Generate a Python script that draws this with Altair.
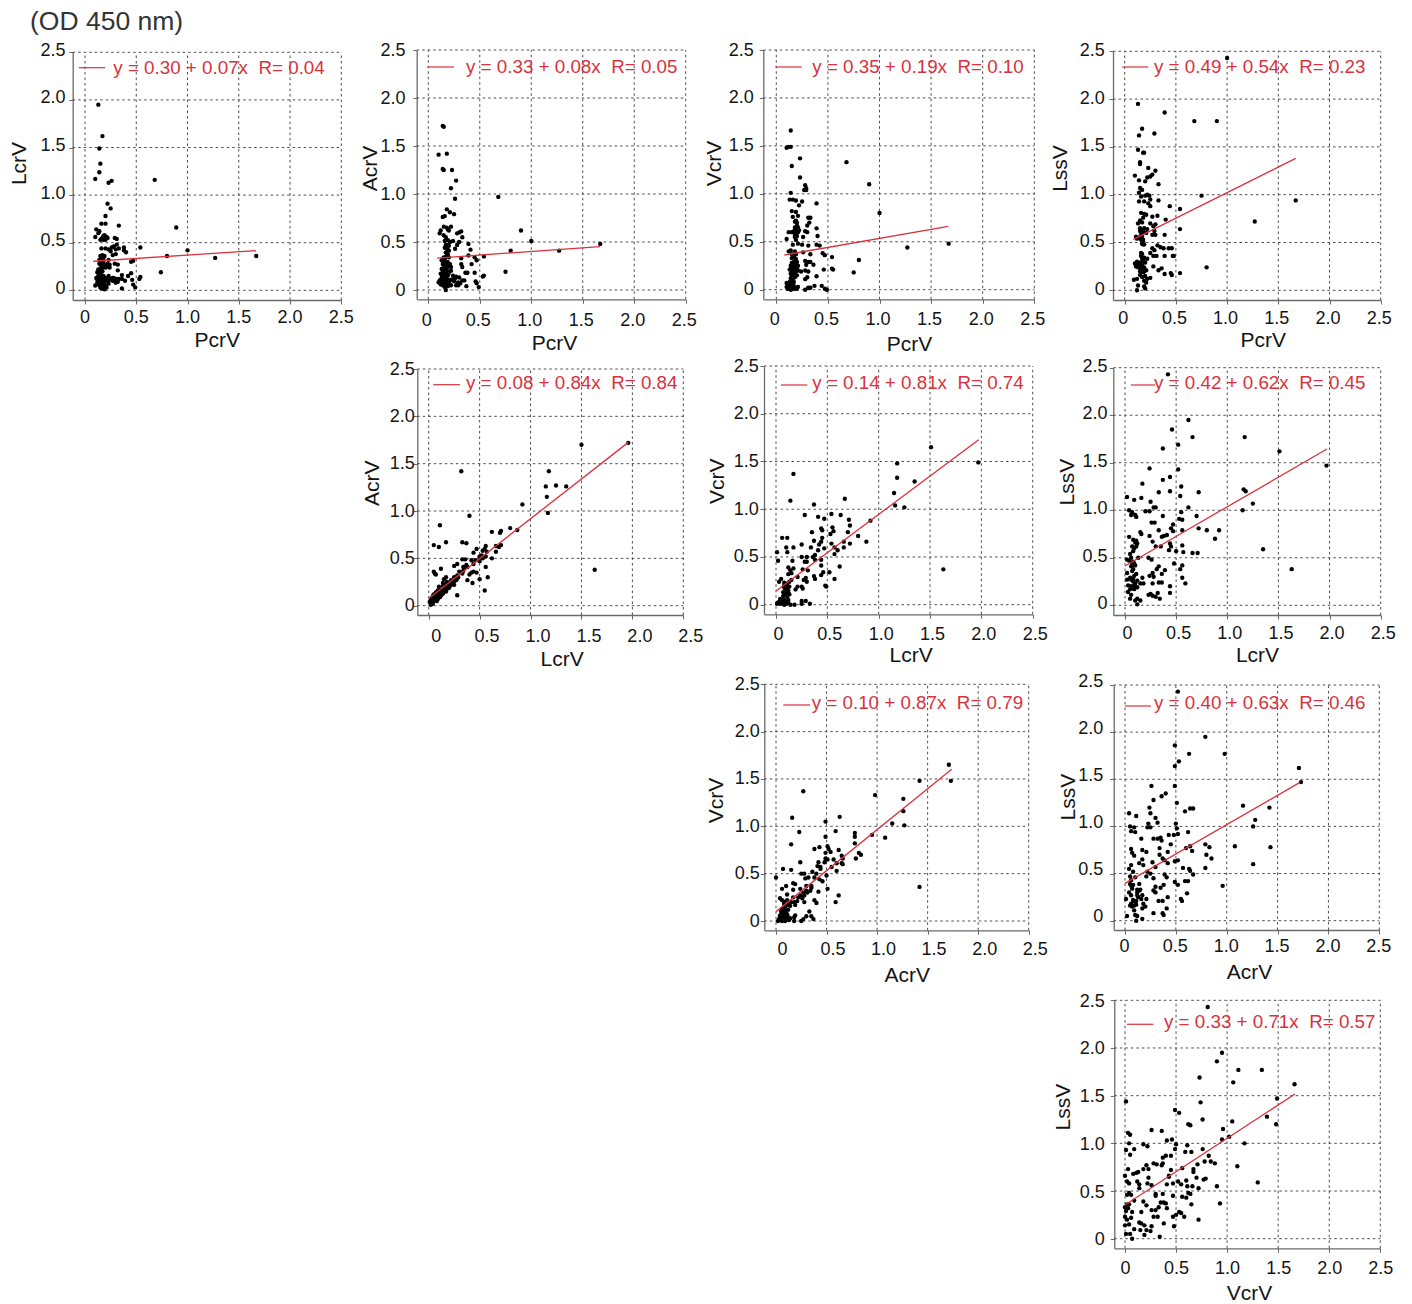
import altair as alt
import pandas as pd

# ---- values: (x, y) per panel ----
pcr_lcr = [(0.13,1.95),(0.17,1.62),(0.14,1.49),(0.15,1.33),(0.14,1.24),(0.10,1.17),(0.23,1.13),(0.26,1.15),(0.68,1.16),(0.22,0.91),(0.25,0.86),(0.20,0.78),(0.89,0.66),(1.0,0.42),(1.27,0.34),(1.67,0.36),(0.80,0.36),(0.74,0.19),(0.54,0.45),(0.33,0.68),(0.16,0.70),(0.20,0.70),(0.11,0.64),(0.14,0.62),(0.13,0.60),(0.10,0.56),(0.15,0.53),(0.17,0.55),(0.18,0.57),(0.19,0.55),(0.20,0.53),(0.22,0.55),(0.29,0.55),(0.31,0.54),(0.28,0.46),(0.31,0.48),(0.33,0.44),(0.30,0.43),(0.26,0.45),(0.25,0.41),(0.27,0.37),(0.16,0.44),(0.20,0.44),(0.23,0.43),(0.38,0.45),(0.38,0.42),(0.40,0.40),(0.45,0.30),(0.47,0.31),(0.15,0.36),(0.17,0.35),(0.19,0.36),(0.14,0.32),(0.16,0.30),(0.18,0.31),(0.14,0.28),(0.17,0.27),(0.19,0.26),(0.20,0.24),(0.22,0.28),(0.23,0.32),(0.22,0.25),(0.24,0.24),(0.29,0.28),(0.32,0.27),(0.32,0.21),(0.13,0.22),(0.12,0.19),(0.15,0.18),(0.17,0.20),(0.13,0.15),(0.11,0.13),(0.15,0.14),(0.18,0.15),(0.20,0.13),(0.23,0.15),(0.25,0.12),(0.28,0.13),(0.30,0.11),(0.33,0.12),(0.36,0.16),(0.36,0.12),(0.32,0.09),(0.39,0.10),(0.42,0.15),(0.45,0.18),(0.46,0.11),(0.47,0.06),(0.49,0.03),(0.53,0.12),(0.54,0.14),(0.36,0.02),(0.10,0.05),(0.13,0.06),(0.14,0.09),(0.16,0.07),(0.17,0.04),(0.18,0.02),(0.15,0.03),(0.20,0.05),(0.21,0.03),(0.23,0.07),(0.19,0.09),(0.22,0.10),(0.16,0.11),(0.27,0.10),(0.30,0.08),
           (0.12,0.11),(0.14,0.12),(0.16,0.13),(0.18,0.12),(0.13,0.09),(0.15,0.08),(0.17,0.09),(0.18,0.06),(0.15,0.05),(0.16,0.02),(0.19,0.01),(0.12,0.08),(0.14,0.18),(0.16,0.21),(0.15,0.23),(0.17,0.24),(0.16,0.26),(0.18,0.28),(0.15,0.30),(0.16,0.33),(0.18,0.34),(0.17,0.37),(0.21,0.27),(0.24,0.27),(0.21,0.12),(0.24,0.11),(0.27,0.13),(0.31,0.12),(0.19,0.58),(0.18,0.53),(0.21,0.56),(0.16,0.54),(0.30,0.38)]
pcr_acr = [(0.14,1.71),(0.15,1.70),(0.10,1.41),(0.18,1.42),(0.14,1.26),(0.15,1.25),(0.23,1.25),(0.27,1.14),(0.22,1.06),(0.26,0.95),(0.68,0.97),(0.18,0.84),(0.21,0.81),(0.25,0.79),(0.14,0.76),(0.16,0.77),(0.90,0.62),(1.0,0.51),(1.27,0.41),(1.67,0.48),(0.80,0.41),(0.75,0.19),(0.54,0.35),(0.54,0.15),(0.53,0.14),(0.49,0.03),(0.46,0.09),(0.47,0.07),(0.37,0.04),(0.11,0.59),(0.12,0.62),(0.15,0.66),(0.18,0.65),(0.19,0.63),(0.22,0.66),(0.20,0.62),(0.15,0.57),(0.17,0.55),(0.28,0.59),(0.30,0.60),(0.32,0.61),(0.33,0.55),(0.16,0.51),(0.19,0.52),(0.21,0.50),(0.17,0.47),(0.30,0.50),(0.28,0.47),(0.39,0.48),(0.26,0.43),(0.41,0.42),(0.18,0.43),(0.17,0.39),(0.19,0.37),(0.20,0.41),(0.15,0.34),(0.13,0.31),(0.16,0.31),(0.18,0.29),(0.14,0.27),(0.17,0.26),(0.19,0.25),(0.21,0.27),(0.22,0.24),(0.32,0.33),(0.39,0.36),(0.45,0.34),(0.47,0.31),(0.42,0.27),(0.32,0.27),(0.33,0.24),(0.13,0.22),(0.15,0.21),(0.18,0.20),(0.22,0.20),(0.36,0.18),(0.38,0.18),(0.45,0.18),(0.12,0.17),(0.14,0.15),(0.16,0.16),(0.19,0.15),(0.24,0.15),(0.27,0.14),(0.30,0.13),(0.10,0.08),(0.12,0.10),(0.14,0.09),(0.16,0.11),(0.18,0.08),(0.21,0.10),(0.25,0.09),(0.29,0.08),(0.33,0.10),(0.35,0.10),(0.27,0.05),(0.29,0.05),(0.31,0.07),(0.14,0.05),(0.16,0.03),(0.17,0.00),(0.19,0.04),(0.22,0.05),
           (0.15,0.29),(0.16,0.27),(0.17,0.23),(0.15,0.24),(0.16,0.19),(0.14,0.18),(0.17,0.17),(0.18,0.23),(0.19,0.29),(0.20,0.34),(0.18,0.36),(0.17,0.34),(0.18,0.39),(0.19,0.42),(0.13,0.13),(0.15,0.11),(0.17,0.13),(0.19,0.11),(0.20,0.07),(0.16,0.06),(0.14,0.07),(0.12,0.06),(0.11,0.10),(0.18,0.16),(0.20,0.18),(0.17,0.10),(0.15,0.08),(0.23,0.11),(0.26,0.12),(0.16,0.44),(0.19,0.47),(0.20,0.46),(0.24,0.51)]
pcr_vcr = [(0.14,1.66),(0.10,1.48),(0.12,1.49),(0.14,1.49),(0.23,1.37),(0.15,1.29),(0.68,1.33),(0.23,1.17),(0.90,1.10),(0.28,1.09),(0.29,1.06),(0.27,1.04),(0.29,1.04),(0.14,1.01),(0.13,0.94),(0.16,0.94),(0.19,0.93),(0.25,0.92),(0.22,0.88),(0.39,0.90),(1.0,0.80),(0.15,0.82),(0.19,0.81),(0.16,0.76),(0.21,0.77),(0.31,0.75),(0.33,0.75),(0.18,0.71),(0.20,0.70),(0.32,0.70),(0.30,0.67),(0.18,0.65),(0.21,0.65),(0.19,0.62),(0.17,0.61),(0.22,0.62),(0.39,0.64),(0.12,0.60),(0.15,0.60),(0.28,0.61),(0.30,0.60),(0.40,0.56),(0.18,0.57),(0.20,0.56),(0.26,0.55),(0.10,0.53),(0.19,0.52),(0.21,0.48),(0.25,0.47),(0.31,0.46),(0.39,0.47),(0.42,0.46),(0.16,0.47),(0.14,0.41),(0.12,0.40),(0.18,0.40),(0.26,0.39),(0.33,0.37),(0.45,0.38),(0.47,0.36),(0.54,0.34),(0.17,0.36),(0.15,0.33),(0.19,0.32),(0.17,0.29),(0.20,0.29),(0.28,0.30),(0.31,0.29),(0.33,0.29),(0.80,0.31),(0.36,0.26),(0.29,0.26),(1.27,0.44),(1.67,0.48),(0.75,0.18),(0.54,0.22),(0.55,0.21),(0.46,0.21),(0.14,0.25),(0.16,0.24),(0.18,0.25),(0.20,0.23),(0.13,0.21),(0.15,0.20),(0.17,0.21),(0.19,0.19),(0.21,0.20),(0.28,0.20),(0.31,0.19),(0.39,0.14),(0.20,0.15),(0.24,0.19),(0.14,0.12),(0.16,0.10),(0.18,0.13),(0.30,0.13),(0.28,0.11),(0.10,0.07),(0.12,0.05),(0.13,0.03),(0.15,0.06),(0.17,0.04),(0.19,0.02),(0.21,0.03),(0.11,0.01),(0.14,0.00),(0.16,0.01),(0.28,0.00),(0.31,0.02),(0.33,0.02),(0.37,0.04),(0.44,0.04),(0.47,0.01),(0.49,0.00),
           (0.14,0.22),(0.16,0.22),(0.18,0.22),(0.19,0.26),(0.15,0.28),(0.17,0.26),(0.21,0.25),(0.16,0.18),(0.18,0.17),(0.14,0.17),(0.15,0.15),(0.17,0.34),(0.15,0.37),(0.19,0.37),(0.20,0.61),(0.19,0.64),(0.21,0.60),(0.18,0.60),(0.20,0.67),(0.19,0.72),(0.18,0.55),(0.13,0.08),(0.15,0.09),(0.17,0.08),(0.12,0.02),(0.13,0.01),(0.18,0.01),(0.20,0.01),(0.15,0.02),(0.10,0.03)]
pcr_lss = [(1.0,2.43),(0.13,1.95),(0.39,1.86),(0.68,1.77),(0.90,1.77),(0.17,1.69),(0.14,1.62),(0.29,1.64),(0.13,1.47),(0.18,1.44),(0.19,1.44),(0.15,1.34),(0.15,1.32),(0.23,1.28),(0.30,1.25),(0.27,1.21),(0.25,1.19),(0.22,1.18),(0.10,1.20),(0.14,1.15),(0.20,1.14),(0.33,1.11),(0.15,1.07),(0.17,1.05),(0.14,1.02),(0.22,1.00),(0.20,0.99),(0.24,0.99),(0.16,0.98),(0.75,0.99),(1.67,0.94),(0.14,0.93),(0.19,0.93),(0.25,0.95),(0.33,0.94),(0.23,0.91),(0.25,0.88),(0.44,0.88),(0.54,0.85),(0.16,0.81),(0.19,0.80),(0.21,0.79),(0.27,0.77),(0.32,0.78),(0.18,0.76),(0.15,0.73),(0.13,0.70),(0.17,0.71),(0.40,0.74),(1.27,0.72),(0.25,0.70),(0.30,0.69),(0.28,0.67),(0.19,0.65),(0.22,0.64),(0.15,0.62),(0.54,0.64),(0.17,0.60),(0.21,0.60),(0.29,0.62),(0.11,0.56),(0.12,0.54),(0.15,0.56),(0.27,0.58),(0.30,0.58),(0.39,0.58),(0.16,0.53),(0.18,0.51),(0.17,0.49),(0.19,0.48),(0.32,0.47),(0.35,0.45),(0.38,0.44),(0.43,0.44),(0.46,0.44),(0.27,0.44),(0.29,0.42),(0.16,0.39),(0.25,0.39),(0.47,0.36),(0.48,0.36),(0.28,0.36),(0.31,0.36),(0.39,0.36),(0.16,0.36),(0.19,0.34),(0.22,0.33),(0.12,0.30),(0.10,0.28),(0.14,0.29),(0.17,0.30),(0.20,0.29),(0.11,0.25),(0.13,0.24),(0.16,0.25),(0.19,0.24),(0.80,0.24),(0.28,0.25),(0.33,0.21),(0.36,0.23),(0.15,0.20),(0.18,0.19),(0.21,0.21),(0.39,0.17),(0.45,0.18),(0.46,0.16),(0.54,0.18),(0.15,0.16),(0.17,0.14),(0.20,0.15),(0.22,0.12),(0.25,0.13),(0.09,0.11),(0.12,0.12),(0.19,0.10),(0.21,0.08),(0.13,0.05),(0.19,0.04),(0.20,0.02),(0.12,0.00),
           (0.14,0.27),(0.15,0.26),(0.17,0.27),(0.13,0.28),(0.18,0.31),(0.19,0.33),(0.17,0.33),(0.18,0.22),(0.16,0.22),(0.19,0.20),(0.17,0.49),(0.18,0.48),(0.18,0.53),(0.17,0.56),(0.16,0.60),(0.18,0.62),(0.15,0.65),(0.17,0.38)]
lcr_acr = [(1.96,1.72),(1.50,1.70),(0.32,1.42),(1.18,1.42),(1.25,1.27),(1.15,1.26),(1.35,1.26),(1.16,1.15),(0.92,1.07),(1.17,0.98),(0.40,0.95),(0.11,0.85),(0.80,0.82),(0.87,0.80),(0.62,0.78),(0.71,0.79),(0.70,0.77),(0.05,0.64),(0.10,0.62),(0.17,0.67),(0.33,0.67),(0.37,0.66),(0.71,0.64),(0.66,0.63),(0.69,0.62),(0.56,0.63),(0.55,0.60),(0.47,0.60),(0.53,0.58),(0.57,0.57),(0.44,0.56),(0.66,0.57),(0.52,0.53),(0.56,0.52),(0.50,0.50),(0.62,0.50),(0.33,0.49),(0.36,0.49),(0.42,0.48),(0.46,0.48),(0.50,0.47),(0.28,0.44),(0.25,0.42),(0.44,0.44),(0.38,0.41),(0.56,0.41),(1.63,0.38),(0.35,0.40),(0.12,0.39),(0.34,0.37),(0.44,0.36),(0.47,0.35),(0.42,0.35),(0.05,0.36),(0.06,0.34),(0.07,0.33),(0.30,0.36),(0.33,0.34),(0.40,0.33),(0.58,0.30),(0.28,0.32),(0.25,0.30),(0.17,0.30),(0.15,0.28),(0.50,0.28),(0.38,0.27),(0.22,0.27),(0.27,0.27),(0.18,0.25),(0.24,0.25),(0.43,0.24),(0.21,0.23),(0.14,0.24),(0.17,0.22),(0.25,0.22),(0.10,0.20),(0.14,0.21),(0.20,0.19),(0.15,0.18),(0.55,0.16),(0.12,0.17),(0.09,0.16),(0.17,0.15),(0.07,0.14),(0.11,0.14),(0.14,0.13),(0.05,0.12),(0.09,0.12),(0.12,0.11),(0.28,0.11),(0.04,0.10),(0.07,0.10),(0.11,0.09),(0.03,0.08),(0.06,0.08),(0.09,0.07),(0.02,0.06),(0.05,0.05),(0.08,0.05),(0.01,0.04),(0.03,0.03),(0.02,0.01),(0.04,0.02),
           (0.02,0.05),(0.03,0.06),(0.04,0.05),(0.05,0.07),(0.06,0.06),(0.07,0.07),(0.08,0.08),(0.09,0.09),(0.10,0.10),(0.11,0.11),(0.12,0.12),(0.13,0.12),(0.14,0.14),(0.15,0.15),(0.16,0.16),(0.04,0.07),(0.05,0.09),(0.07,0.12),(0.08,0.10),(0.10,0.13),(0.12,0.14),(0.13,0.16),(0.15,0.17),(0.18,0.18),(0.19,0.20),(0.21,0.21),(0.22,0.22),(0.23,0.23),(0.24,0.24),(0.25,0.26),(0.26,0.27),(0.27,0.28),(0.28,0.29),(0.29,0.30),(0.08,0.14),(0.09,0.12),(0.11,0.16),(0.16,0.19),(0.18,0.21),(0.20,0.22),(0.34,0.41),(0.37,0.43),(0.50,0.52),(0.53,0.50)]
lcr_vcr = [(1.51,1.65),(1.18,1.48),(1.97,1.49),(0.17,1.37),(1.18,1.33),(1.35,1.29),(1.15,1.17),(0.14,1.09),(0.67,1.11),(0.37,1.05),(1.16,1.04),(1.25,1.02),(0.28,0.94),(0.41,0.92),(0.47,0.90),(0.54,0.95),(0.63,0.94),(0.71,0.89),(0.92,0.88),(0.72,0.83),(0.44,0.80),(0.45,0.78),(0.55,0.81),(0.35,0.76),(0.56,0.77),(0.53,0.74),(0.70,0.76),(0.80,0.72),(0.06,0.70),(0.11,0.70),(0.45,0.70),(0.37,0.67),(0.44,0.66),(0.88,0.66),(0.66,0.66),(0.72,0.64),(0.42,0.63),(0.25,0.63),(0.54,0.64),(0.66,0.60),(0.10,0.60),(0.17,0.60),(0.34,0.60),(0.47,0.59),(0.57,0.60),(0.60,0.57),(0.01,0.55),(0.11,0.55),(0.41,0.57),(0.38,0.52),(0.57,0.53),(0.25,0.50),(0.30,0.50),(0.36,0.50),(0.02,0.46),(0.16,0.46),(0.28,0.45),(0.30,0.45),(0.38,0.47),(0.44,0.47),(0.12,0.39),(0.17,0.38),(0.26,0.37),(0.44,0.41),(0.62,0.40),(0.14,0.36),(0.31,0.36),(0.52,0.34),(0.46,0.34),(0.12,0.32),(0.15,0.33),(1.63,0.37),(0.37,0.30),(0.44,0.31),(0.57,0.27),(0.05,0.27),(0.21,0.29),(0.29,0.28),(0.27,0.26),(0.15,0.26),(0.38,0.27),(0.03,0.24),(0.08,0.23),(0.10,0.22),(0.13,0.24),(0.30,0.24),(0.10,0.20),(0.08,0.18),(0.13,0.19),(0.21,0.19),(0.25,0.19),(0.48,0.20),(0.49,0.19),(0.10,0.15),(0.12,0.15),(0.19,0.16),(0.26,0.17),(0.07,0.13),(0.10,0.12),(0.13,0.11),(0.07,0.09),(0.11,0.08),(0.04,0.06),(0.06,0.05),(0.12,0.05),(0.25,0.04),(0.29,0.04),(0.02,0.02),(0.04,0.01),(0.06,0.02),(0.10,0.01),(0.14,0.00),(0.18,0.00),(0.25,0.01),(0.33,0.01),(0.01,0.01),(0.08,0.00),
           (0.08,0.10),(0.10,0.18),(0.11,0.20),(0.08,0.20),(0.09,0.17),(0.11,0.13),(0.05,0.02),(0.07,0.01),(0.03,0.03),(0.09,0.03),(0.12,0.02),(0.08,0.05),(0.11,0.16)]
lcr_lss = [(0.42,2.43),(0.62,1.95),(0.46,1.85),(0.66,1.77),(1.17,1.77),(0.52,1.69),(0.37,1.65),(1.51,1.62),(1.97,1.47),(0.24,1.44),(0.52,1.43),(0.37,1.32),(0.44,1.35),(0.17,1.28),(0.55,1.25),(1.16,1.22),(1.18,1.20),(0.33,1.19),(0.44,1.20),(0.72,1.19),(0.02,1.14),(0.16,1.13),(0.54,1.15),(0.09,1.11),(0.25,1.09),(1.25,1.07),(0.28,1.03),(0.30,1.03),(0.62,1.03),(0.04,1.00),(0.07,0.98),(0.20,0.99),(0.24,0.99),(1.15,1.00),(0.55,0.98),(0.06,0.95),(0.10,0.95),(0.11,0.93),(0.37,0.94),(0.70,0.94),(0.53,0.91),(0.56,0.90),(0.26,0.87),(0.29,0.87),(0.47,0.85),(0.45,0.81),(0.72,0.81),(0.33,0.79),(0.47,0.78),(0.56,0.79),(0.80,0.79),(0.92,0.79),(0.15,0.77),(0.16,0.75),(0.24,0.73),(0.36,0.72),(0.38,0.73),(0.41,0.74),(0.04,0.72),(0.08,0.69),(0.11,0.68),(0.88,0.70),(0.27,0.67),(0.12,0.65),(0.44,0.65),(0.45,0.62),(0.56,0.63),(0.07,0.62),(0.09,0.60),(0.30,0.62),(0.35,0.62),(0.43,0.58),(0.50,0.57),(1.35,0.59),(0.08,0.57),(0.05,0.54),(0.57,0.56),(0.66,0.55),(0.71,0.55),(0.06,0.50),(0.13,0.50),(0.23,0.50),(0.26,0.48),(0.02,0.48),(0.04,0.47),(0.08,0.46),(0.48,0.44),(0.56,0.42),(0.09,0.44),(0.33,0.41),(0.06,0.41),(1.63,0.38),(0.54,0.38),(0.31,0.38),(0.39,0.37),(0.02,0.34),(0.07,0.36),(0.11,0.33),(0.27,0.34),(0.36,0.33),(0.24,0.31),(0.28,0.30),(0.56,0.29),(0.05,0.29),(0.08,0.28),(0.17,0.29),(0.02,0.27),(0.12,0.26),(0.33,0.24),(0.36,0.24),(0.15,0.23),(0.18,0.23),(0.27,0.23),(0.59,0.23),(0.03,0.21),(0.06,0.20),(0.09,0.21),(0.12,0.19),(0.44,0.20),(0.05,0.17),(0.09,0.17),(0.03,0.14),(0.32,0.13),(0.44,0.13),(0.25,0.12),(0.06,0.11),(0.23,0.11),(0.27,0.10),(0.30,0.09),(0.34,0.07),(0.05,0.07),(0.12,0.07),(0.10,0.05),(0.15,0.05),(0.12,0.01),
           (0.07,0.18),(0.09,0.19),(0.10,0.23),(0.08,0.25),(0.06,0.27),(0.09,0.31),(0.08,0.38),(0.10,0.42),(0.07,0.44),(0.10,0.66),(0.11,0.62)]
acr_vcr = [(1.71,1.65),(1.42,1.48),(1.73,1.48),(0.27,1.37),(0.98,1.33),(1.26,1.29),(1.26,1.16),(0.16,1.09),(0.63,1.10),(0.49,1.05),(1.15,1.03),(1.27,1.01),(0.59,0.95),(0.23,0.94),(0.78,0.93),(0.95,0.91),(0.49,0.89),(0.78,0.89),(1.08,0.88),(0.15,0.81),(0.78,0.82),(0.51,0.79),(0.43,0.78),(0.52,0.76),(0.38,0.76),(0.62,0.75),(0.54,0.73),(0.49,0.72),(0.82,0.72),(0.84,0.70),(0.65,0.69),(0.66,0.66),(0.79,0.66),(0.49,0.66),(0.51,0.65),(0.57,0.65),(0.42,0.62),(0.48,0.62),(0.24,0.62),(0.60,0.61),(0.65,0.61),(0.66,0.60),(0.41,0.58),(0.44,0.57),(0.55,0.57),(0.07,0.55),(0.15,0.54),(0.44,0.55),(0.60,0.53),(0.36,0.52),(0.25,0.50),(0.28,0.50),(0.40,0.50),(0.50,0.48),(0.00,0.46),(0.29,0.45),(0.32,0.46),(0.38,0.46),(0.43,0.44),(0.17,0.40),(0.19,0.39),(0.46,0.42),(0.30,0.37),(0.35,0.37),(0.10,0.37),(0.06,0.34),(0.24,0.34),(0.51,0.34),(0.17,0.33),(0.34,0.32),(0.42,0.31),(1.42,0.36),(0.31,0.30),(0.62,0.27),(0.11,0.28),(0.28,0.27),(0.26,0.24),(0.04,0.24),(0.17,0.25),(0.38,0.22),(0.06,0.22),(0.10,0.21),(0.13,0.20),(0.21,0.21),(0.40,0.19),(0.59,0.20),(0.08,0.18),(0.12,0.17),(0.19,0.17),(0.28,0.20),(0.14,0.16),(0.06,0.13),(0.09,0.12),(0.12,0.12),(0.05,0.10),(0.09,0.09),(0.33,0.10),(0.07,0.07),(0.11,0.07),(0.19,0.06),(0.30,0.05),(0.35,0.05),(0.04,0.04),(0.08,0.04),(0.12,0.04),(0.18,0.04),(0.27,0.02),(0.37,0.02),(0.02,0.00),(0.05,0.01),(0.09,0.00),(0.13,0.01),(0.18,0.00),(0.25,0.00),
           (0.03,0.02),(0.04,0.06),(0.06,0.04),(0.07,0.02),(0.08,0.06),(0.10,0.05),(0.11,0.02),(0.06,0.07),(0.08,0.09),(0.10,0.09),(0.07,0.11),(0.09,0.14),(0.08,0.13),(0.05,0.02),(0.14,0.03),(0.06,0.00),(0.10,0.11),(0.08,0.20),(0.11,0.22),(0.15,0.20),(0.18,0.20),(0.22,0.25),(0.24,0.27),(0.27,0.30),(0.30,0.32),(0.35,0.35)]
acr_lss = [(0.52,2.43),(0.79,1.95),(0.49,1.86),(0.63,1.77),(0.98,1.77),(0.53,1.69),(0.49,1.64),(1.71,1.62),(1.73,1.47),(0.26,1.43),(0.49,1.43),(0.40,1.35),(0.36,1.32),(0.28,1.28),(0.51,1.25),(1.16,1.22),(1.42,1.20),(0.24,1.20),(0.64,1.19),(0.67,1.19),(0.04,1.14),(0.25,1.14),(0.59,1.16),(0.11,1.11),(0.30,1.09),(1.28,1.07),(0.23,1.03),(0.32,1.04),(0.50,1.03),(0.05,1.00),(0.09,0.99),(0.22,0.99),(0.25,0.99),(1.26,1.00),(0.51,0.98),(0.06,0.95),(0.10,0.94),(0.62,0.94),(0.43,0.91),(0.48,0.91),(0.52,0.92),(0.16,0.87),(0.28,0.87),(0.32,0.87),(0.35,0.88),(0.36,0.85),(0.45,0.81),(0.64,0.79),(0.79,0.81),(0.83,0.78),(1.08,0.79),(1.43,0.78),(0.34,0.77),(0.06,0.76),(0.17,0.75),(0.60,0.77),(0.66,0.74),(0.07,0.72),(0.21,0.73),(0.42,0.73),(0.34,0.70),(0.80,0.70),(0.09,0.69),(0.37,0.66),(0.85,0.66),(0.17,0.65),(0.39,0.64),(0.49,0.63),(0.52,0.64),(0.27,0.62),(0.42,0.61),(0.14,0.61),(0.06,0.59),(0.18,0.59),(0.30,0.57),(0.63,0.55),(1.26,0.60),(0.04,0.55),(0.57,0.56),(0.64,0.53),(0.79,0.56),(0.08,0.52),(0.22,0.52),(0.25,0.50),(0.67,0.49),(0.39,0.49),(0.05,0.47),(0.10,0.46),(0.41,0.46),(0.21,0.47),(0.28,0.45),(0.06,0.43),(0.59,0.42),(0.62,0.42),(0.49,0.41),(0.05,0.39),(0.14,0.39),(0.52,0.38),(0.07,0.37),(0.96,0.37),(0.30,0.36),(0.38,0.38),(0.12,0.33),(0.15,0.33),(0.28,0.32),(0.04,0.30),(0.12,0.30),(0.30,0.30),(0.35,0.35),(0.06,0.27),(0.61,0.29),(0.17,0.27),(0.13,0.25),(0.42,0.25),(0.01,0.23),(0.16,0.23),(0.21,0.23),(0.55,0.23),(0.33,0.21),(0.37,0.21),(0.56,0.21),(0.08,0.21),(0.10,0.20),(0.18,0.18),(0.05,0.16),(0.07,0.15),(0.11,0.17),(0.20,0.15),(0.17,0.13),(0.41,0.13),(0.09,0.11),(0.28,0.08),(0.37,0.08),(0.38,0.06),(0.10,0.06),(0.02,0.05),(0.12,0.05),(0.17,0.02),(0.11,0.00),
           (0.06,0.37),(0.08,0.38),(0.07,0.34),(0.06,0.18),(0.09,0.16),(0.11,0.21),(0.12,0.27),(0.14,0.32),(0.08,0.22)]
vcr_lss = [(0.81,2.43),(0.95,1.95),(0.90,1.86),(1.11,1.77),(1.34,1.77),(0.73,1.69),(1.06,1.64),(1.66,1.62),(1.49,1.47),(0.01,1.44),(0.74,1.43),(0.49,1.35),(0.53,1.32),(1.39,1.28),(0.76,1.25),(0.62,1.20),(0.64,1.19),(1.05,1.23),(1.48,1.20),(0.26,1.14),(0.36,1.13),(0.96,1.15),(0.03,1.11),(0.05,1.09),(1.02,1.07),(0.41,1.03),(0.46,1.04),(0.95,1.04),(0.04,1.00),(0.18,0.99),(0.50,0.99),(0.61,0.98),(1.17,1.00),(0.22,0.97),(0.01,0.93),(0.09,0.94),(0.49,0.94),(0.76,0.94),(0.59,0.91),(0.65,0.91),(0.05,0.88),(0.37,0.85),(0.40,0.87),(0.45,0.87),(0.82,0.87),(0.28,0.79),(0.31,0.78),(0.78,0.81),(0.84,0.81),(0.88,0.79),(0.36,0.77),(0.37,0.79),(0.21,0.77),(0.71,0.78),(1.10,0.76),(0.03,0.73),(0.18,0.73),(0.23,0.73),(0.45,0.72),(0.56,0.74),(0.67,0.73),(0.08,0.68),(0.11,0.69),(0.13,0.70),(0.43,0.66),(0.67,0.70),(0.00,0.66),(0.23,0.64),(0.43,0.65),(0.70,0.64),(0.77,0.62),(0.79,0.63),(0.02,0.60),(0.12,0.60),(0.52,0.60),(0.60,0.61),(1.30,0.59),(0.04,0.58),(0.14,0.57),(0.22,0.58),(0.26,0.56),(0.41,0.57),(0.47,0.58),(0.55,0.57),(0.61,0.55),(0.66,0.55),(0.14,0.53),(0.72,0.53),(0.90,0.55),(0.62,0.48),(0.30,0.47),(0.37,0.47),(0.02,0.46),(0.04,0.48),(0.06,0.46),(0.30,0.45),(0.47,0.45),(0.56,0.44),(0.64,0.47),(0.60,0.43),(0.09,0.40),(0.18,0.39),(0.35,0.38),(0.38,0.38),(0.02,0.36),(0.04,0.36),(0.21,0.35),(0.40,0.37),(0.65,0.36),(0.93,0.37),(0.00,0.33),(0.03,0.32),(0.33,0.33),(0.41,0.32),(0.01,0.29),(0.07,0.28),(0.16,0.28),(0.26,0.30),(0.30,0.30),(0.53,0.28),(0.55,0.27),(0.50,0.25),(0.28,0.23),(0.32,0.23),(0.47,0.23),(0.58,0.23),(0.00,0.23),(0.06,0.22),(0.02,0.20),(0.72,0.20),(0.14,0.17),(0.16,0.16),(0.38,0.16),(0.00,0.14),(0.04,0.15),(0.19,0.14),(0.26,0.13),(0.48,0.13),(0.09,0.10),(0.15,0.09),(0.21,0.09),(0.25,0.08),(0.19,0.04),(0.01,0.05),(0.05,0.05),(0.34,0.02),(0.07,0.00)]

# regression line endpoints (x0, y0, x1, y1)
fit_lines = [
    (0.08,0.305,1.665,0.417),(0.087,0.333,1.668,0.451),(0.078,0.362,1.667,0.66),(0.085,0.533,1.67,1.38),
    (0.0,0.077,1.96,1.725),(0.0,0.143,1.974,1.728),(0.0,0.414,1.975,1.644),
    (0.0,0.099,1.738,1.602),(0.0,0.396,1.72,1.467),(0.0,0.353,1.665,1.517),
]
equations = [
    "y = 0.30 + 0.07x\u00a0\u00a0R= 0.04","y = 0.33 + 0.08x\u00a0\u00a0R= 0.05","y = 0.35 + 0.19x\u00a0\u00a0R= 0.10","y = 0.49 + 0.54x\u00a0\u00a0R= 0.23",
    "y = 0.08 + 0.84x\u00a0\u00a0R= 0.84","y = 0.14 + 0.81x\u00a0\u00a0R= 0.74","y = 0.42 + 0.62x\u00a0\u00a0R= 0.45",
    "y = 0.10 + 0.87x\u00a0\u00a0R= 0.79","y = 0.40 + 0.63x\u00a0\u00a0R= 0.46","y = 0.33 + 0.71x\u00a0\u00a0R= 0.57",
]
x_names = ["PcrV","PcrV","PcrV","PcrV","LcrV","LcrV","LcrV","AcrV","AcrV","VcrV"]
y_names = ["LcrV","AcrV","VcrV","LssV","AcrV","VcrV","LssV","VcrV","LssV","LssV"]
panel_points = [pcr_lcr,pcr_acr,pcr_vcr,pcr_lss,lcr_acr,lcr_vcr,lcr_lss,acr_vcr,acr_lss,vcr_lss]
tick_values = [0.0,0.5,1.0,1.5,2.0,2.5]

# ---- layout, page pixels ----
# left, x0, x25, bottom, y0, y25, x-label centre, y-label right edge,
# x-title (cx,cy), y-title (cx,cy), key (x1,x2,y), eq (x,y), x-label shift, y-label shift
layout = [
 (72.7,85.0,341.3,300.0,290.3,52.3,316.7,65.0,(216.7,340.7),(19.3,163),(79,105,67.7),(113.3,68),-0.5,-2),
 (416.7,428.3,685.7,299.3,290.0,50.0,319.0,405.0,(554,343),(370.7,168),(427.3,454,67),(466,67),-2,0),
 (763.3,776.3,1034.3,299.3,289.7,50.0,318.0,753.3,(909,344),(714,163),(775.3,801.7,67),(812.3,67),-2,0),
 (1113.0,1124.7,1380.7,300.0,290.3,51.3,317.0,1104.3,(1262.7,340),(1060.7,168),(1122.3,1148.3,67),(1154,67),-2,-1),
 (417.3,428.7,683.3,615.0,605.7,369.0,635.0,414.3,(561.7,659),(372.7,482.7),(433.3,460,384.7),(466,383),7,0),
 (764.0,776.0,1032.7,614.3,604.7,366.0,633.3,758.3,(910.7,655),(717.3,480.7),(781,807.3,385),(812.3,383),2,0),
 (1113.3,1125.0,1380.7,615.0,605.3,367.7,632.0,1107.0,(1257,655),(1067,481.7),(1131,1155,385),(1154,383),2,-1.5),
 (764.3,776.0,1028.7,930.3,921.0,684.3,948.0,759.3,(906.7,975),(716.7,800),(783.3,810,705),(811.7,703),6,0),
 (1113.7,1125.0,1379.3,930.0,920.7,685.0,945.0,1102.7,(1249,972),(1068,796.7),(1125,1151,706),(1154,703),-1,-4),
 (1114.3,1125.0,1380.3,1248.3,1238.7,1000.3,1267.0,1104.3,(1249,1293),(1063,1106.7),(1127,1153.3,1024.3),(1164,1022),0,1),
]

W, H, M = 1396, 1296, 8
FONT = "Liberation Sans"
RED = "#d8323c"
GRID = "#4d4d4d"
AX = "#6a6a6a"
INK = "#141414"

layers = []
for i, (lf, x0, x25, bt, y0, y25, xlab, ylab, xt, yt, key, eq, xshift, yshift) in enumerate(layout):
    xlow = -(x0 - lf) / (x25 - x0) * 2.5
    ylow = -(bt - y0) / (y0 - y25) * 2.5
    xs = alt.Scale(domain=[xlow, 2.5], range=[lf - M, x25 - M], nice=False, zero=False)
    ys = alt.Scale(domain=[ylow, 2.5], range=[bt - M, y25 - M], nice=False, zero=False)
    xq = lambda f, **k: alt.X(f, type="quantitative", scale=xs, **k)
    yq = lambda f, **k: alt.Y(f, type="quantitative", scale=ys, **k)

    vg = pd.DataFrame({"v": tick_values, "a": ylow, "b": 2.5})
    hg = pd.DataFrame({"v": tick_values, "a": xlow, "b": 2.5})
    layers.append(alt.Chart(vg).mark_rule(color=GRID, strokeWidth=1, strokeDash=[2.5, 3]).encode(
        x=xq("v", axis=None), y=yq("a", axis=None), y2="b"))
    layers.append(alt.Chart(hg).mark_rule(color=GRID, strokeWidth=1, strokeDash=[2.5, 3]).encode(
        y=yq("v", axis=None), x=xq("a", axis=None), x2="b"))

    pts = pd.DataFrame(panel_points[i], columns=["x", "y"])
    xaxis = alt.Axis(values=tick_values, orient="bottom", offset=bt - M - H, grid=False,
                     labelExpr="datum.value == 0 ? '0' : format(datum.value, '.1f')",
                     labelFont=FONT, labelFontSize=18, labelColor=INK, labelPadding=xlab - bt - 12,
                     labelOffset=xshift, labelFlush=False, labelOverlap=False,
                     tickSize=4, tickColor=AX, tickWidth=1, domainColor=AX, domainWidth=1.3,
                     title=x_names[i], titleFont=FONT, titleFontSize=21, titleFontWeight="normal",
                     titleColor=INK, titleX=xt[0] - M, titleY=xt[1] - bt, titleAnchor="start",
                     titleAlign="center", titleBaseline="middle")
    yaxis = alt.Axis(values=tick_values, orient="left", offset=-(lf - M), grid=False,
                     labelExpr="datum.value == 0 ? '0' : format(datum.value, '.1f')",
                     labelFont=FONT, labelFontSize=18, labelColor=INK, labelPadding=lf - ylab - 4,
                     labelOffset=yshift, labelFlush=False, labelOverlap=False,
                     tickSize=4, tickColor=AX, tickWidth=1, domainColor=AX, domainWidth=1.3,
                     title=y_names[i], titleFont=FONT, titleFontSize=21, titleFontWeight="normal",
                     titleColor=INK, titleX=yt[0] - lf, titleY=yt[1] - M, titleAnchor="start",
                     titleAlign="center", titleBaseline="middle", titleAngle=270)
    layers.append(alt.Chart(pts).mark_circle(size=19, color="#000000", opacity=1).encode(
        x=xq("x", axis=xaxis), y=yq("y", axis=yaxis)))

    a, b, c, d = fit_lines[i]
    fit = pd.DataFrame({"x": [a, c], "y": [b, d]})
    layers.append(alt.Chart(fit).mark_line(color=RED, strokeWidth=1.3).encode(
        x=xq("x", axis=None), y=yq("y", axis=None)))

    layers.append(alt.Chart(pd.DataFrame({"k": [y_names[i]]})).mark_rule(color=RED, strokeWidth=1.2).encode(
        x=alt.value(key[0] - M), x2=alt.value(key[1] - M), y=alt.value(key[2] - M)))
    layers.append(alt.Chart(pd.DataFrame({"t": [equations[i]]})).mark_text(
        font=FONT, fontSize=18.8, color=RED, align="left", baseline="middle").encode(
        text="t:N", x=alt.value(eq[0] - M), y=alt.value(eq[1] - M)))

layers.append(alt.Chart(pd.DataFrame({"t": ["(OD 450 nm)"]})).mark_text(
    font=FONT, fontSize=26.5, color="#333333", align="left", baseline="middle").encode(
    text="t:N", x=alt.value(30 - M), y=alt.value(21.5 - M)))

chart = alt.layer(*layers).resolve_scale(x="independent", y="independent").properties(
    width=W, height=H, padding=0, autosize=alt.AutoSizeParams(type="none"), background="white"
).configure_view(stroke=None)

chart.save("out.html", embed_options={"renderer": "svg", "actions": False})
